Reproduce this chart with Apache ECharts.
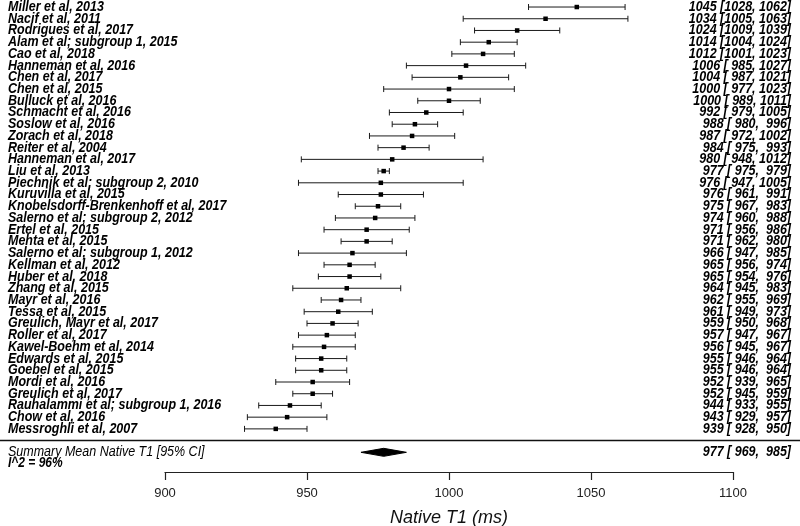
<!DOCTYPE html>
<html>
<head>
<meta charset="utf-8">
<script src="https://cdn.jsdelivr.net/npm/echarts@6/dist/echarts.min.js"></script>
<style>html,body{margin:0;padding:0;background:#fff}#c{width:800px;height:526px}</style>
</head>
<body>
<div id="c"></div>
<script>
var studies = [
  "Miller et al, 2013","Nacif et al, 2011","Rodrigues et al, 2017","Alam et al; subgroup 1, 2015",
  "Cao et al, 2018","Hanneman et al, 2016","Chen et al, 2017","Chen et al, 2015","Bulluck et al, 2016",
  "Schmacht et al, 2016","Soslow et al, 2016","Zorach et al, 2018","Reiter et al, 2004",
  "Hanneman et al, 2017","Liu et al, 2013","Piechnik et al; subgroup 2, 2010","Kuruvilla et al, 2015",
  "Knobelsdorff-Brenkenhoff et al, 2017","Salerno et al; subgroup 2, 2012","Ertel et al, 2015",
  "Mehta et al, 2015","Salerno et al; subgroup 1, 2012","Kellman et al, 2012","Huber et al, 2018",
  "Zhang et al, 2015","Mayr et al, 2016","Tessa et al, 2015","Greulich, Mayr et al, 2017",
  "Roller et al, 2017","Kawel-Boehm et al, 2014","Edwards et al, 2015","Goebel et al, 2015",
  "Mordi et al, 2016","Greulich et al, 2017","Rauhalammi et al; subgroup 1, 2016","Chow et al, 2016",
  "Messroghli et al, 2007"
];
var means = [1045,1034,1024,1014,1012,1006,1004,1000,1000,992,988,987,984,980,977,976,976,975,974,971,971,966,965,965,964,962,961,959,957,956,955,955,952,952,944,943,939];
var lows  = [1028,1005,1009,1004,1001,985,987,977,989,979,980,972,975,948,975,947,961,967,960,956,962,947,956,954,945,955,949,950,947,945,946,946,939,945,933,929,928];
var highs = [1062,1063,1039,1024,1023,1027,1021,1023,1011,1005,996,1002,993,1012,979,1005,991,983,988,986,980,985,974,976,983,969,973,968,967,967,964,964,965,959,955,957,950];
var summaryLabel = "Summary Mean Native T1 [95% CI]";
var summary = [977, 969, 985];
var heterogeneity = "I^2 = 96%";
var xTicks = [900, 950, 1000, 1050, 1100];
var axisTitle = "Native T1 (ms)";

function pad(v){ var s = String(v); while (s.length < 4) s = " " + s; return s; }
function ciText(m, l, h){ return m + " [" + pad(l) + ", " + pad(h) + "]"; }

var FONT = '"Liberation Sans", Arial, sans-serif';
var studyData = studies.map(function(n, i){ return [means[i], lows[i], highs[i], i, n]; });
var nStudies = studies.length;
var SY = 1.15;

var chart = echarts.init(document.getElementById('c'), null, {renderer: 'canvas'});
chart.setOption({
  animation: false,
  backgroundColor: '#fff',
  grid: {left: 165, right: 67, top: 0, bottom: 54, containLabel: false, outerBoundsMode: 'none'},
  xAxis: {
    type: 'value', min: xTicks[0], max: xTicks[xTicks.length - 1], interval: 50,
    splitLine: {show: false},
    axisLine: {show: true, onZero: false, lineStyle: {color: '#222', width: 1.2}},
    axisTick: {show: true, length: 8, lineStyle: {color: '#222', width: 1.2}},
    axisLabel: {color: '#222', fontSize: 13, fontFamily: FONT, margin: 15, formatter: function(v){ return String(v); }},
    name: axisTitle, nameLocation: 'middle', nameGap: 37,
    nameTextStyle: {fontSize: 18, fontStyle: 'italic', fontFamily: FONT, color: '#111'}
  },
  yAxis: {type: 'value', min: -0.6, max: 39.68, inverse: true, show: false},
  series: [
    {
      type: 'custom', clip: false,
      data: studyData,
      encode: {x: [0, 1, 2], y: 3},
      renderItem: function(params, api){
        var m = api.value(0), l = api.value(1), h = api.value(2), r = api.value(3);
        var pm = api.coord([m, r]), pl = api.coord([l, r]), ph = api.coord([h, r]);
        var y = pm[1];
        var i = params.dataIndex;
        var sz = 4.5;
        var st = {stroke: '#1a1a1a', lineWidth: 1};
        return {type: 'group', children: [
          {type: 'line', shape: {x1: pl[0], y1: y, x2: ph[0], y2: y}, style: st},
          {type: 'line', shape: {x1: pl[0], y1: y - 3, x2: pl[0], y2: y + 3}, style: st},
          {type: 'line', shape: {x1: ph[0], y1: y - 3, x2: ph[0], y2: y + 3}, style: st},
          {type: 'rect', shape: {x: pm[0] - sz / 2, y: y - sz / 2, width: sz, height: sz}, style: {fill: '#000'}},
          {type: 'text', x: 8, y: y, scaleY: SY, style: {text: studies[i], fill: '#000', font: 'italic bold 12.5px ' + FONT, textAlign: 'left', textVerticalAlign: 'middle'}},
          {type: 'text', x: 791, y: y, scaleY: SY, style: {text: ciText(means[i], lows[i], highs[i]), fill: '#000', font: 'italic bold 12.5px ' + FONT, textAlign: 'right', textVerticalAlign: 'middle'}}
        ]};
      }
    },
    {
      type: 'custom', clip: false,
      data: [[summary[0], summary[1], summary[2], nStudies + 1]],
      encode: {x: [0, 1, 2], y: 3},
      renderItem: function(params, api){
        var m = api.value(0), l = api.value(1), h = api.value(2), r = api.value(3);
        var pm = api.coord([m, r]), pl = api.coord([l, r]), ph = api.coord([h, r]);
        var y = pm[1];
        var ySep = api.coord([m, nStudies])[1];
        var yI2 = api.coord([m, nStudies + 2])[1];
        return {type: 'group', children: [
          {type: 'line', shape: {x1: 0, y1: ySep, x2: api.getWidth(), y2: ySep}, style: {stroke: '#111', lineWidth: 1.5}},
          {type: 'polygon', shape: {points: [[pl[0], y], [pm[0], y - 4], [ph[0], y], [pm[0], y + 4]]}, style: {fill: '#000', stroke: '#000', lineWidth: 1}},
          {type: 'text', x: 8, y: y, scaleY: SY, style: {text: summaryLabel, fill: '#000', font: 'italic 12.5px ' + FONT, textAlign: 'left', textVerticalAlign: 'middle'}},
          {type: 'text', x: 8, y: yI2 - 1, scaleY: SY, style: {text: heterogeneity, fill: '#000', font: 'italic bold 12px ' + FONT, textAlign: 'left', textVerticalAlign: 'middle'}},
          {type: 'text', x: 791, y: y, scaleY: SY, style: {text: ciText(summary[0], summary[1], summary[2]), fill: '#000', font: 'italic bold 12.5px ' + FONT, textAlign: 'right', textVerticalAlign: 'middle'}}
        ]};
      }
    }
  ]
});
</script>
</body>
</html>
